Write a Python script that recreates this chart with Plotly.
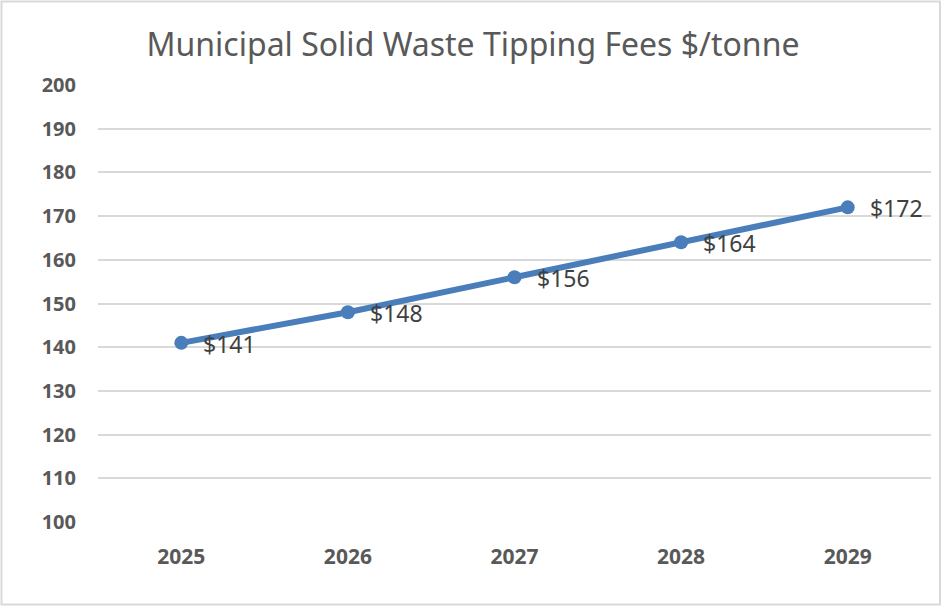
import plotly.graph_objects as go

# data
years = ["2025", "2026", "2027", "2028", "2029"]
fees = [141, 148, 156, 164, 172]
labels = ["$141", "$148", "$156", "$164", "$172"]

W, H = 942, 607
ML, MR, MT, MB = 98, 11, 85, 85
pw, ph = W - ML - MR, H - MT - MB
BLUE = "#4a7ebb"

fig = go.Figure()
fig.add_trace(go.Scatter(
    x=years, y=fees, mode="lines+markers",
    line=dict(color=BLUE, width=6),
    marker=dict(size=14, color=BLUE),
    cliponaxis=False,
    hoverinfo="skip",
))

# data labels to the right of each point (category index as x)
for i, (v, lab) in enumerate(zip(fees, labels)):
    fig.add_annotation(x=i, y=v, text=lab, showarrow=False,
                       xanchor="left", yanchor="middle", xshift=20, yshift=-1,
                       font=dict(family="Noto Sans", size=23, color="#404040"))

# outer chart border
fig.add_shape(type="rect", xref="paper", yref="paper",
              x0=(1.5 - ML) / pw, x1=(W - 2 - ML) / pw,
              y0=(ph + MT - (H - 2.5)) / ph, y1=(ph + MT - 1.5) / ph,
              line=dict(color="#d9d9d9", width=2), fillcolor="rgba(0,0,0,0)")

fig.update_layout(
    width=W, height=H,
    margin=dict(l=ML, r=MR, t=MT, b=MB),
    paper_bgcolor="white", plot_bgcolor="white",
    showlegend=False,
    title=dict(text="Municipal Solid Waste Tipping Fees $/tonne",
               x=(143 + 803) / 2 / W, xref="container", xanchor="center",
               y=1 - 45 / H, yanchor="middle",
               font=dict(family="Noto Sans", size=32, color="#595959")),
    xaxis=dict(type="category", range=[-0.5, len(years) - 0.5],
               showgrid=False, zeroline=False, showline=False,
               ticks="", ticklabelstandoff=20,
               tickfont=dict(family="Noto Sans", size=21, color="#595959", weight="bold")),
    yaxis=dict(range=[100, 200], dtick=10, showgrid=True, gridcolor="#d9d9d9",
               gridwidth=2, zeroline=False, showline=False, ticks="",
               ticklabelstandoff=21,
               tickfont=dict(family="Noto Sans", size=20, color="#595959", weight="bold")),
)

fig.write_html("out.html", config={"displayModeBar": False},
               post_script="document.body.style.margin='0';")
